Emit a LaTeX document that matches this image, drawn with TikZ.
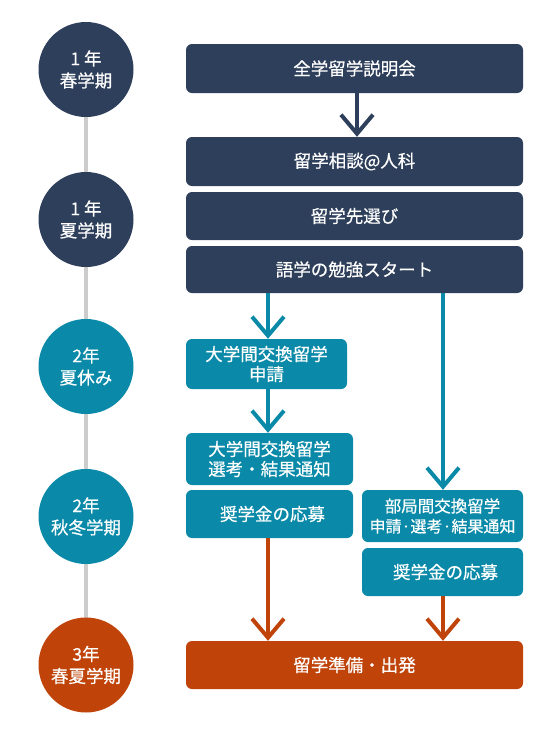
\documentclass[tikz,border=0pt]{standalone}
\usepackage{fontspec}
\setmainfont{Noto Sans CJK JP}[FakeBold=0.5]
\usetikzlibrary{arrows.meta}
\definecolor{navy}{HTML}{2E3F5B}
\definecolor{teal}{HTML}{0A8AA8}
\definecolor{rust}{HTML}{C0440A}
\definecolor{lgray}{HTML}{CCCCCC}
\tikzset{
  box/.style={rounded corners=6pt, inner sep=0pt, text=white, align=center,
    font=\fontsize{17.5}{20}\selectfont},
  term/.style={circle, minimum size=95pt, inner sep=0pt, text=white, align=center,
    font=\fontsize{17.5}{22}\selectfont},
  arr/.style={line width=4pt, -{Straight Barb[length=19pt,width=32pt]}},
}
\begin{document}
\begin{tikzpicture}[x=1pt,y=-1pt]
\useasboundingbox (0,0) rectangle (560,740);
\fill[white] (0,0) rectangle (560,740);
% timeline
\coordinate (t1) at (86,69.5);
\coordinate (t5) at (86,665);
\draw[lgray, line width=4pt] (t1) -- (t5);
% circles
\node[term, fill=navy] (c1) at (86,69.5) {1 年\\春学期};
\node[term, fill=navy] (c2) at (86,219.5) {1 年\\夏学期};
\node[term, fill=teal] (c3) at (86,366.5) {2年\\夏休み};
\node[term, fill=teal] (c4) at (86,516.5) {2年\\秋冬学期};
\node[term, fill=rust] (c5) at (86,665) {3年\\春夏学期};
% boxes
\node[box, fill=navy, minimum width=337pt, minimum height=49pt] (b1) at (354.5,68.5) {全学留学説明会};
\node[box, fill=navy, minimum width=337pt, minimum height=49pt] (b2) at (354.5,161.5) {留学相談@人科};
\node[box, fill=navy, minimum width=337pt, minimum height=48pt] (b3) at (354.5,216) {留学先選び};
\node[box, fill=navy, minimum width=337pt, minimum height=47pt] (b4) at (354.5,269.5) {語学の勉強スタート};
\node[box, fill=teal, minimum width=161pt, minimum height=50pt] (b5) at (266.5,364) {大学間交換留学\\申請};
\node[box, fill=teal, minimum width=167pt, minimum height=52pt] (b6) at (269.5,459) {大学間交換留学\\選考・結果通知};
\node[box, fill=teal, minimum width=167pt, minimum height=48pt] (b7) at (269.5,514) {\hspace{6pt}奨学金の応募};
\node[box, fill=teal, minimum width=161pt, minimum height=52pt, font=\fontsize{16.5}{20}\selectfont] (b8) at (442.5,516) {部局間交換留学\\\fontsize{16}{20}\selectfont 申請·選考·結果通知};
\node[box, fill=teal, minimum width=161pt, minimum height=48pt] (b9) at (442.5,572) {\hspace{6pt}奨学金の応募};
\node[box, fill=rust, minimum width=337pt, minimum height=48pt] (b10) at (354.5,665) {留学準備・出発};
% arrow columns
\coordinate (xm) at (357,0);
\coordinate (xl) at (268,0);
\coordinate (xr) at (443,0);
\draw[arr, navy] (b1.south -| xm) -- (b2.north -| xm);
\draw[arr, teal] (b4.south -| xl) -- (b5.north -| xl);
\draw[arr, teal] (b5.south -| xl) -- (b6.north -| xl);
\draw[arr, teal] (b4.south -| xr) -- (b8.north -| xr);
\draw[arr, rust] (b7.south -| xl) -- (b10.north -| xl);
\draw[arr, rust] (b9.south -| xr) -- (b10.north -| xr);
\end{tikzpicture}
\end{document}
